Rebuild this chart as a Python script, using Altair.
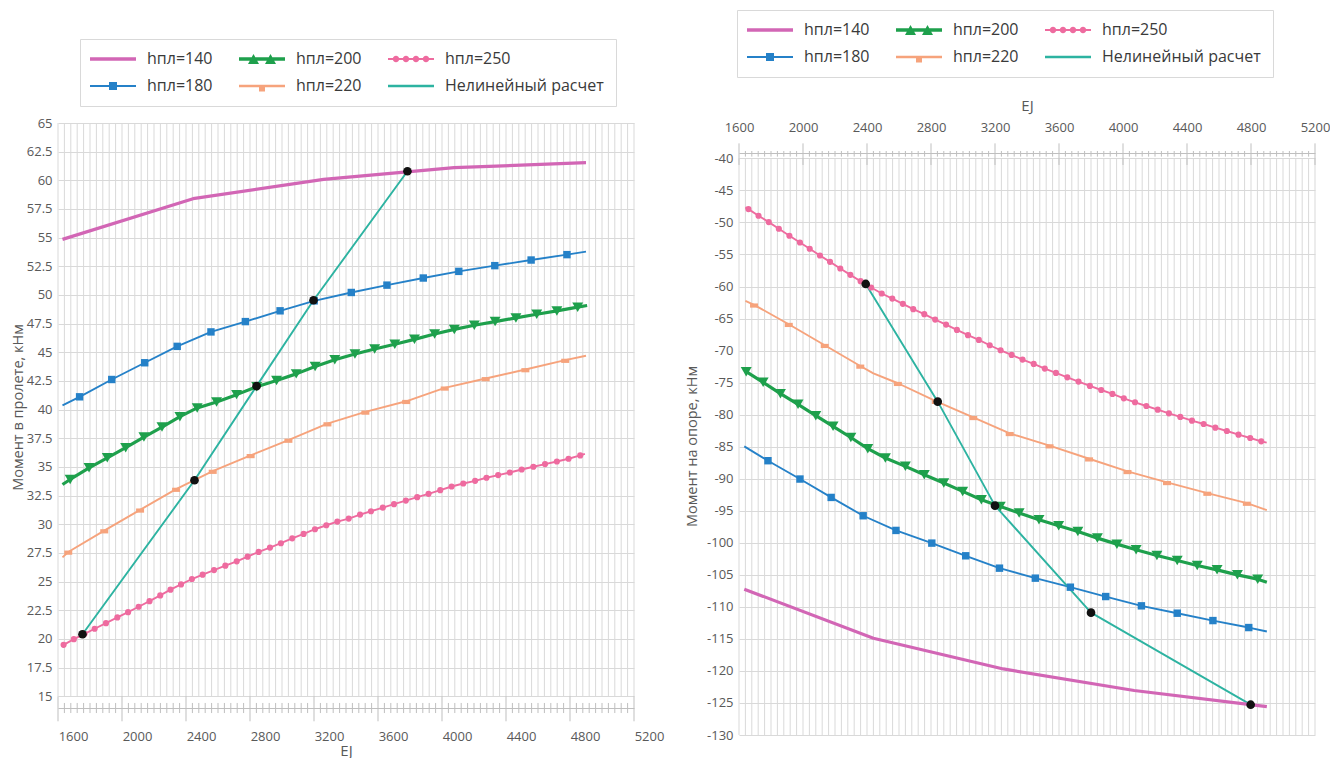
import altair as alt
import pandas as pd

FONT = "Open Sans"
TXT = "#595959"
GRID = "#d9d9d9"
AXC = "#bfbfbf"

SERIES = ["hпл=140", "hпл=180", "hпл=200", "hпл=220", "hпл=250", "Нелинейный расчет"]
COLORS = ["#D266B5", "#2581C8", "#1EA04C", "#F6A37C", "#EE6B9F", "#2DB3A1"]
THICK = ["hпл=140", "hпл=200"]
X_TICKS = list(range(1600, 5201, 400))
X_GRID = list(range(1600, 5201, 40))

# ---------------- left panel: Момент в пролете ----------------
L140_X = [1628, 2444, 3260, 4076, 4900]
L140_Y = [54.85, 58.4, 60.08, 61.1, 61.55]
L140_M = [0, 0, 0, 0, 0]

L180_X = [1628, 1735, 1936, 2142, 2345, 2556, 2771, 2988, 3201, 3433, 3656, 3883, 4105, 4330, 4557, 4781, 4900]
L180_Y = [40.38, 41.12, 42.63, 44.09, 45.52, 46.78, 47.68, 48.62, 49.49, 50.22, 50.86, 51.48, 52.06, 52.56, 53.05, 53.52, 53.78]
L180_M = [0] + [1] * 15 + [0]

L200_X = [1628, 1676, 1794, 1908, 2023, 2137, 2250, 2362, 2470, 2591, 2716, 2842, 2966, 3089, 3207, 3330,
          3456, 3579, 3705, 3828, 3954, 4077, 4202, 4332, 4462, 4592, 4718, 4848, 4907]
L200_Y = [33.47, 33.91, 34.93, 35.80, 36.68, 37.61, 38.48, 39.39, 40.15, 40.67, 41.31, 42.0, 42.54, 43.12, 43.77, 44.35,
          44.85, 45.29, 45.70, 46.13, 46.60, 47.0, 47.36, 47.68, 48.0, 48.32, 48.61, 48.94, 49.08]
L200_M = [0] + [1] * 27 + [0]

L220_X = [1628, 1664, 1889, 2113, 2338, 2567, 2804, 3040, 3284, 3521, 3776, 4017, 4273, 4521, 4770, 4900]
L220_Y = [27.12, 27.59, 29.45, 31.26, 33.07, 34.64, 36.01, 37.35, 38.78, 39.80, 40.73, 41.90, 42.72, 43.50, 44.32, 44.7]
L220_M = [0] + [1] * 14 + [0]

L250_X = [1635, 1699, 1766, 1829, 1900, 1971, 2038, 2104, 2172, 2239, 2303, 2369, 2437, 2504, 2575, 2646,
          2717, 2785, 2854, 2925, 2993, 3064, 3135, 3206, 3277, 3346, 3417, 3488, 3556, 3630, 3700, 3774,
          3845, 3916, 3989, 4060, 4133, 4207, 4278, 4351, 4424, 4498, 4571, 4644, 4718, 4791, 4864, 4893]
L250_Y = [19.49, 19.98, 20.45, 20.89, 21.38, 21.88, 22.34, 22.81, 23.30, 23.80, 24.30, 24.76, 25.23, 25.61, 26.01, 26.39,
          26.77, 27.18, 27.59, 27.97, 28.35, 28.78, 29.16, 29.57, 29.92, 30.24, 30.50, 30.85, 31.14, 31.46, 31.76, 32.07,
          32.37, 32.66, 32.98, 33.30, 33.56, 33.79, 34.06, 34.29, 34.52, 34.78, 35.02, 35.25, 35.48, 35.72, 36.01, 36.15]
L250_M = [1] * 47 + [0]

LNL_X = [1753, 2453, 2841, 3197, 3784]
LNL_Y = [20.41, 33.84, 42.05, 49.54, 60.79]
LNL_M = [0, 0, 0, 0, 0]

# ---------------- right panel: Момент на опоре ----------------
R140_X = [1633, 2440, 3252, 4070, 4899]
R140_Y = [-107.24, -114.9, -119.69, -123.05, -125.57]
R140_M = [0, 0, 0, 0, 0]

R180_X = [1633, 1781, 1981, 2176, 2376, 2581, 2805, 3017, 3228, 3452, 3671, 3892, 4115, 4339, 4562, 4786, 4899]
R180_Y = [-84.95, -87.19, -90.05, -92.92, -95.78, -98.07, -100.05, -102.03, -103.96, -105.52, -106.93, -108.39,
          -109.84, -110.99, -112.14, -113.23, -113.85]
R180_M = [0] + [1] * 15 + [0]

R200_X = [1645, 1751, 1859, 1969, 2080, 2188, 2299, 2405, 2515, 2640, 2758, 2880, 2998, 3115, 3233, 3351,
          3475, 3598, 3718, 3840, 3962, 4082, 4212, 4339, 4464, 4588, 4715, 4842, 4899]
R200_Y = [-73.3, -74.95, -76.72, -78.39, -80.16, -81.82, -83.57, -85.31, -86.77, -88.07, -89.38, -90.68, -91.98,
          -93.28, -94.32, -95.36, -96.41, -97.34, -98.23, -99.27, -100.21, -101.09, -101.98, -102.76, -103.54,
          -104.22, -105.0, -105.68, -106.15]
R200_M = [1] * 28 + [0]

R220_X = [1640, 1694, 1911, 2136, 2358, 2440, 2593, 2830, 3064, 3292, 3541, 3788, 4028, 4275, 4527, 4774, 4899]
R220_Y = [-62.24, -62.86, -65.89, -69.17, -72.40, -73.55, -75.10, -77.9, -80.42, -82.92, -84.84, -86.88, -88.85,
          -90.57, -92.24, -93.80, -94.90]
R220_M = [0, 1, 1, 1, 1, 0, 1, 1, 1, 1, 1, 1, 1, 1, 1, 1, 0]

R250_X = [1640, 1659, 1722, 1786, 1849, 1915, 1981, 2042, 2106, 2169, 2233, 2296, 2360, 2426, 2492, 2558, 2624,
          2689, 2758, 2826, 2894, 2962, 3031, 3099, 3167, 3235, 3304, 3372, 3442, 3511, 3581, 3652, 3722, 3793,
          3864, 3934, 4005, 4075, 4146, 4217, 4287, 4358, 4431, 4504, 4577, 4649, 4722, 4795, 4864, 4898]
R250_Y = [-47.66, -47.92, -48.96, -49.95, -50.99, -52.08, -53.13, -54.11, -55.16, -56.15, -57.19, -58.18, -59.17,
          -60.16, -61.09, -61.88, -62.71, -63.54, -64.32, -65.16, -65.94, -66.77, -67.60, -68.33, -69.17, -69.95,
          -70.68, -71.41, -72.08, -72.81, -73.49, -74.17, -74.84, -75.52, -76.15, -76.77, -77.45, -78.07, -78.65,
          -79.22, -79.79, -80.36, -80.94, -81.46, -82.03, -82.55, -83.13, -83.65, -84.17, -84.37]
R250_M = [0] + [1] * 48 + [0]

RNL_X = [2392, 2842, 3200, 3800, 4798]
RNL_Y = [-59.6, -77.97, -94.2, -110.9, -125.27]
RNL_M = [0, 0, 0, 0, 0]

LEFT_Y_TICKS = [15 + 2.5 * i for i in range(21)]
RIGHT_Y_TICKS = [-130 + 5 * i for i in range(19)]


def long_df(items):
    rows = []
    for name, xs, ys, ms in items:
        for i, (x, y, m) in enumerate(zip(xs, ys, ms)):
            rows.append({"series": name, "x": x, "y": y, "m": m, "i": i})
    return pd.DataFrame(rows)


left_df = long_df([
    ("hпл=140", L140_X, L140_Y, L140_M), ("hпл=200", L200_X, L200_Y, L200_M),
    ("hпл=250", L250_X, L250_Y, L250_M), ("hпл=180", L180_X, L180_Y, L180_M),
    ("hпл=220", L220_X, L220_Y, L220_M), ("Нелинейный расчет", LNL_X, LNL_Y, LNL_M)])
right_df = long_df([
    ("hпл=140", R140_X, R140_Y, R140_M), ("hпл=200", R200_X, R200_Y, R200_M),
    ("hпл=250", R250_X, R250_Y, R250_M), ("hпл=180", R180_X, R180_Y, R180_M),
    ("hпл=220", R220_X, R220_Y, R220_M), ("Нелинейный расчет", RNL_X, RNL_Y, RNL_M)])


# legend glyphs (custom symbol paths, all drawn clockwise so they unite)
def rect(x0, y0, x1, y1):
    return f"M{x0},{y0}H{x1}V{y1}H{x0}Z"


def circ(cx, cy, r):
    return f"M{cx - r},{cy}A{r},{r} 0 1,1 {cx + r},{cy}A{r},{r} 0 1,1 {cx - r},{cy}Z"


def tri(cx, h, w):
    return f"M{cx - w / 2},{h / 2}L{cx},{-h / 2}L{cx + w / 2},{h / 2}Z"


G = 4.6
GLYPH = {
    "hпл=140": rect(-G, -0.35, G, 0.35),
    "hпл=180": rect(-G, -0.2, G, 0.2) + rect(-0.8, -0.8, 0.8, 0.8),
    "hпл=200": rect(-G, -0.35, G, 0.35) + tri(-1.7, 2.0, 2.2) + tri(1.7, 2.0, 2.2),
    "hпл=220": rect(-G, -0.25, G, 0.25) + rect(-0.6, -0.1, 0.6, 1.1),
    "hпл=250": rect(-G, -0.2, G, 0.2) + "".join(circ(c, 0, 0.65) for c in (-3, -1, 1, 3)),
    "Нелинейный расчет": rect(-G, -0.25, G, 0.25),
}
GLYPHS = [GLYPH[s] for s in SERIES]

MARKERS = [("hпл=180", "square", 55), ("hпл=200", "triangle-down", 120),
           ("hпл=220", rect(-1, -0.35, 1, 0.7), 64), ("hпл=250", "circle", 38)]

# line colour scale uses a reversed domain order so that its (disabled) legend is not merged with the shown one
LINE_DOM = SERIES[::-1]
LINE_COL = COLORS[::-1]


def panel(df, ydom, yvals, ytitle, ytitle_y, ytitle_pad, xorient, xoffset, xlabel_pad, xlabel_shift,
          xtitle_pad, grid_span, major_span, minor_span, leg_x, leg_y, h):
    xs = alt.Scale(domain=[1600, 5200], nice=False, zero=False)
    ys = alt.Scale(domain=ydom, nice=False, zero=False)
    xax = alt.Axis(values=X_TICKS, orient=xorient, offset=xoffset, grid=False, ticks=False, domain=True,
                   domainColor=AXC, labelExpr="datum.value + ''", labelFont=FONT, labelFontSize=13,
                   labelColor=TXT, labelPadding=xlabel_pad, labelOffset=xlabel_shift, labelFlush=False,
                   titleFont=FONT, titleFontSize=15, titleFontWeight="normal", titleColor=TXT,
                   titlePadding=xtitle_pad)
    yax = alt.Axis(values=yvals, grid=True, gridColor=GRID, gridWidth=1, domain=False, ticks=False,
                   labelExpr="datum.value + ''", labelFont=FONT, labelFontSize=13, labelColor=TXT,
                   labelPadding=6, labelFlush=False, titleFont=FONT, titleFontSize=14.5,
                   titleFontWeight="normal", titleColor=TXT, titlePadding=ytitle_pad, titleY=ytitle_y)

    def X(f):
        return alt.X(f + ":Q", scale=xs, axis=xax, title="EJ")

    def Y(f):
        return alt.Y(f + ":Q", scale=ys, axis=yax, title=ytitle)

    grid = pd.DataFrame({"gx": X_GRID, "gy1": grid_span[0], "gy2": grid_span[1]})
    tk = pd.DataFrame({
        "tx": X_GRID,
        "ty1": [major_span[0] if v % 400 == 0 else minor_span[0] for v in X_GRID],
        "ty2": [major_span[1] if v % 400 == 0 else minor_span[1] for v in X_GRID],
    })

    grid_l = alt.Chart(grid).mark_rule(color=GRID, strokeWidth=1).encode(x=X("gx"), y=Y("gy1"), y2="gy2:Q")
    tick_l = alt.Chart(tk).mark_rule(color=AXC, strokeWidth=1).encode(x=X("tx"), y=Y("ty1"), y2="ty2:Q")
    color_enc = alt.Color("series:N", scale=alt.Scale(domain=LINE_DOM, range=LINE_COL), legend=None)
    thick_test = " || ".join(f"datum.series == '{s}'" for s in THICK)
    thin_l = (alt.Chart(df).transform_filter(f"!({thick_test})")
              .mark_line(strokeJoin="round", strokeWidth=1.9)
              .encode(x=X("x"), y=Y("y"), color=color_enc, detail="series:N", order="i:Q"))
    thick_l = (alt.Chart(df).transform_filter(thick_test)
               .mark_line(strokeJoin="round", strokeWidth=3.2)
               .encode(x=X("x"), y=Y("y"), color=color_enc, detail="series:N", order="i:Q"))
    marker_ls = []
    for name, shape, size in MARKERS:
        marker_ls.append(
            alt.Chart(df).transform_filter(f"datum.series == '{name}' && datum.m == 1")
            .mark_point(filled=True, opacity=1, shape=shape, size=size, color=COLORS[SERIES.index(name)],
                        strokeWidth=0)
            .encode(x=X("x"), y=Y("y")))
    black_l = (alt.Chart(df).transform_filter(f"datum.series == '{SERIES[5]}'")
               .mark_point(filled=True, opacity=1, shape="circle", size=75, color="#111111", strokeWidth=0)
               .encode(x=X("x"), y=Y("y")))
    leg = alt.Legend(orient="none", legendX=leg_x, legendY=leg_y, columns=3, title=None,
                     symbolSize=100, symbolStrokeWidth=0, symbolOffset=13, labelOffset=26,
                     labelFont=FONT, labelFontSize=16, labelColor="#3a3a3a", labelLimit=400,
                     columnPadding=26, rowPadding=11, padding=12, strokeColor=GRID, fillColor="white")
    leg_l = (alt.Chart(df).transform_filter("false")
             .mark_point(filled=True, opacity=1, strokeWidth=0)
             .encode(x=X("x"), y=Y("y"),
                     fill=alt.Fill("series:N", scale=alt.Scale(domain=SERIES, range=COLORS), legend=leg),
                     shape=alt.Shape("series:N", scale=alt.Scale(domain=SERIES, range=GLYPHS), legend=leg)))
    return (alt.layer(grid_l, tick_l, thin_l, thick_l, *marker_ls, black_l, leg_l)
            .properties(width=576, height=h))


left = panel(left_df, [13.98, 65], LEFT_Y_TICKS, "Момент в пролете, кНм", 284, 1,
             "bottom", 0, 22, 15, 0, (15, 65), (15, 12.82), (14.42, 13.54), 22, -84, 585)
right = panel(right_df, [-130, -34.48], RIGHT_Y_TICKS, "Момент на опоре, кНм", 323, 7,
              "top", -30, 19, 0, 8, (-130, -40), (-37.66, -41.03), (-38.85, -39.73), -2, -113, 612)

chart = (alt.hconcat(left, right, spacing=105, bounds="flush")
         .resolve_scale(fill="independent", shape="independent")
         .resolve_legend(fill="independent", shape="independent")
         .properties(padding={"left": 2, "top": 1, "right": 0, "bottom": 0})
         .configure_view(strokeWidth=0))

chart.save("out.html", embed_options={"renderer": "svg", "actions": False})
